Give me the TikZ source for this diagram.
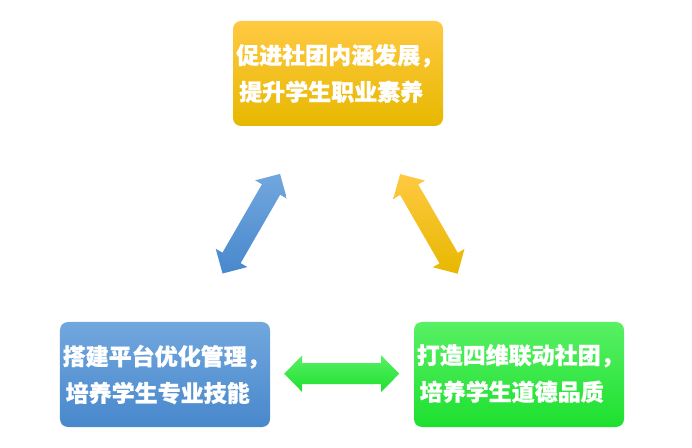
\documentclass[tikz,border=0pt]{standalone}
\usepackage{fontspec}
\newfontfamily\cjk{Noto Sans CJK SC}[BoldFeatures={FakeBold=0.8}]
\definecolor{orT}{RGB}{255,201,66}
\definecolor{orM}{RGB}{255,193,0}
\definecolor{orB}{RGB}{231,184,0}
\definecolor{blT}{RGB}{114,167,222}
\definecolor{blB}{RGB}{72,136,204}
\definecolor{grT}{RGB}{88,240,100}
\definecolor{grB}{RGB}{29,224,47}
\tikzset{
  box/.style={rounded corners=8bp, minimum width=210bp, minimum height=105bp, inner sep=0pt},
  orbox/.style={box, top color=orT, middle color=orM, bottom color=orB},
  blbox/.style={box, top color=blT, bottom color=blB},
  grbox/.style={box, top color=grT, bottom color=grB},
  boxtext/.style={text=white, anchor=west, align=left, inner sep=0pt,
    font=\cjk\bfseries\fontsize{23bp}{36.7bp}\selectfont},
}
\begin{document}
\begin{tikzpicture}[x=1bp,y=-1bp]
\useasboundingbox (0,0) rectangle (692,448);
\node[orbox] (top) at (338,73.5) {};
\node[blbox] (left) at (165,374.5) {};
\node[grbox] (right) at (519,374.5) {};
\node[boxtext] (toptext) at (236,73.4) {促进社团内涵发展，\\\hspace{3bp}提升学生职业素养};
\node[boxtext] (lefttext) at (62.5,374.5) {搭建平台优化管理，\\\hspace{3bp}培养学生专业技能};
\node[boxtext] (righttext) at (416.5,373.5) {打造四维联动社团，\\\hspace{3bp}培养学生道德品质};
\coordinate (barrow) at (251.3,223.7);
\coordinate (oarrow) at (428.9,223.9);
\coordinate (garrow) at (341.7,373.7);
\begin{scope}[shift={(barrow)}, rotate=60]
\path[top color=blT, bottom color=blB] (-57.5,0) -- (-39.5,-18.3) -- (-39.5,-10.5) -- (39.5,-10.5) -- (39.5,-18.3) -- (57.5,0) -- (39.5,18.3) -- (39.5,10.5) -- (-39.5,10.5) -- (-39.5,18.3) -- cycle;
\end{scope}
\begin{scope}[shift={(oarrow)}, rotate=-60]
\path[top color=orT, middle color=orM, bottom color=orB] (-57.5,0) -- (-39.5,-18.3) -- (-39.5,-10.5) -- (39.5,-10.5) -- (39.5,-18.3) -- (57.5,0) -- (39.5,18.3) -- (39.5,10.5) -- (-39.5,10.5) -- (-39.5,18.3) -- cycle;
\end{scope}
\begin{scope}[shift={(garrow)}]
\path[top color=grT, bottom color=grB] (-57.5,0) -- (-39.5,-18.3) -- (-39.5,-10.5) -- (39.5,-10.5) -- (39.5,-18.3) -- (57.5,0) -- (39.5,18.3) -- (39.5,10.5) -- (-39.5,10.5) -- (-39.5,18.3) -- cycle;
\end{scope}
\end{tikzpicture}
\end{document}
